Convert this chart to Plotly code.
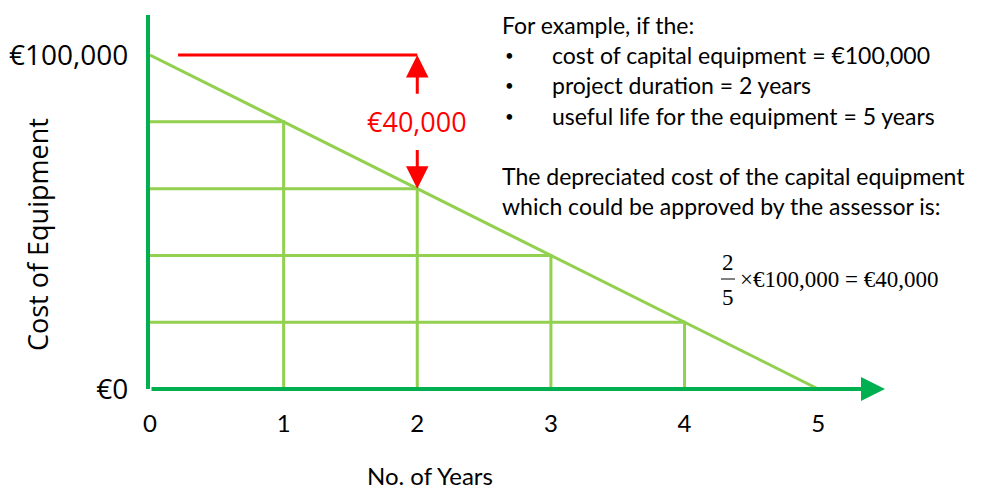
import plotly.graph_objects as go

# ---- data ----
years = [0, 1, 2, 3, 4, 5]
cost = [100000, 80000, 60000, 40000, 20000, 0]
x_tick_labels = ["0", "1", "2", "3", "4", "5"]
y_tick_vals = [0, 100000]
y_tick_labels = ["€0", "€100,000"]
project_years = 2
approved_value = 40000

W, H = 987, 491
OFF = 8  # page body margin
# plot area in screenshot pixels: x 150..885, y 15..389
PL, PR, PT, PB = 150, 885, 15, 389
ML = PL - OFF
MR = W - (PR - OFF)
MT = PT - OFF
MB = H - (PB - OFF)
XMAX = 5.5
YMAX = 112000

AXIS_GREEN = "#00B050"
LINE_GREEN = "#92D050"
RED = "#FF0000"


def px(x):
    return (x - PL) / (PR - PL)


def py(y):
    return (PB - y) / (PB - PT)


fig = go.Figure()

# grid segments from each year point back to the axes
gx, gy = [], []
for yr, c in zip(years[1:-1], cost[1:-1]):
    gx += [0, yr, yr, None]
    gy += [c, c, 0, None]
fig.add_trace(go.Scatter(x=gx, y=gy, mode="lines",
                         line=dict(color=LINE_GREEN, width=3),
                         hoverinfo="skip", showlegend=False))

# depreciation line
fig.add_trace(go.Scatter(x=years, y=cost, mode="lines",
                         line=dict(color=LINE_GREEN, width=3),
                         showlegend=False))

# red reference line at initial cost up to project year
fig.add_trace(go.Scatter(x=[0.21, project_years], y=[cost[0], cost[0]], mode="lines",
                         line=dict(color=RED, width=3),
                         hoverinfo="skip", showlegend=False))

top = cost[0]
bottom = cost[years.index(project_years)]
gap = top - bottom

annotations = []
# x axis arrow
annotations.append(dict(x=XMAX, y=0, ax=0, ay=0, xref="x", yref="y", axref="x", ayref="y",
                        showarrow=True, arrowhead=2, arrowsize=1.2, arrowwidth=4,
                        arrowcolor=AXIS_GREEN, text="", standoff=0))
# red arrows
annotations.append(dict(x=project_years, y=top, ax=project_years, ay=top - 0.3 * gap,
                        xref="x", yref="y", axref="x", ayref="y",
                        showarrow=True, arrowhead=2, arrowsize=1.5, arrowwidth=3,
                        arrowcolor=RED, text=""))
annotations.append(dict(x=project_years, y=bottom, ax=project_years, ay=bottom + 0.3 * gap,
                        xref="x", yref="y", axref="x", ayref="y",
                        showarrow=True, arrowhead=2, arrowsize=1.5, arrowwidth=3,
                        arrowcolor=RED, text=""))
annotations.append(dict(x=project_years, y=(top + bottom) / 2, xref="x", yref="y",
                        xanchor="center", yanchor="middle",
                        text="€" + f"{approved_value:,}", showarrow=False,
                        font=dict(family="Open Sans", size=27, color=RED)))


def txt(x, y, text, font, xanchor="left", **kw):
    annotations.append(dict(x=px(x), y=py(y), xref="paper", yref="paper",
                            xanchor=xanchor, yanchor="middle", text=text,
                            showarrow=False, font=font, **kw))


# axis titles
txt(37, 235, "Cost of Equipment", dict(family="Open Sans", size=27, color="black"),
    xanchor="center", textangle=-90)
txt(430, 475, "No. of Years", dict(family="Lato", size=24, color="black"), xanchor="center")

# explanatory text
TF = dict(family="Lato", size=23, color="black")
BF = dict(family="Lato", size=15, color="black")
txt(500, 25, "For example, if the:", TF)
bullets = ["cost of capital equipment = €100,000",
           "project duration = 2 years",
           "useful life for the equipment = 5 years"]
for i, b in enumerate(bullets):
    yy = 55 + i * 30.5
    txt(503, yy, "•", BF)
    txt(550, yy, b, TF)
txt(500, 176, "The depreciated cost of the capital equipment", TF)
txt(500, 206, "which could be approved by the assessor is:", TF)

# formula
FF = dict(family="Liberation Serif", size=23, color="black")
txt(728, 262, "2", FF, xanchor="center")
txt(728, 297, "5", FF, xanchor="center")
txt(738, 279, "×€100,000 = €40,000", FF)

shapes = [dict(type="line", xref="paper", yref="paper",
               x0=px(721), x1=px(735), y0=py(279), y1=py(279),
               line=dict(color="black", width=1))]

fig.update_layout(
    width=W, height=H,
    margin=dict(l=ML, r=MR, t=MT, b=MB, autoexpand=False),
    plot_bgcolor="white", paper_bgcolor="white",
    showlegend=False,
    annotations=annotations,
    shapes=shapes,
    xaxis=dict(range=[0, XMAX], tickvals=years, ticktext=x_tick_labels,
               showgrid=False, zeroline=False, showline=False, ticks="",
               ticklabelstandoff=18,
               tickfont=dict(family="Lato", size=24, color="black"),
               fixedrange=True),
    yaxis=dict(range=[0, YMAX], tickvals=y_tick_vals, ticktext=y_tick_labels,
               showgrid=False, zeroline=False, showline=True,
               linecolor=AXIS_GREEN, linewidth=4, ticks="",
               ticklabelstandoff=12,
               tickfont=dict(family="Open Sans", size=28, color="black"),
               fixedrange=True),
)

fig.write_html("out.html")
